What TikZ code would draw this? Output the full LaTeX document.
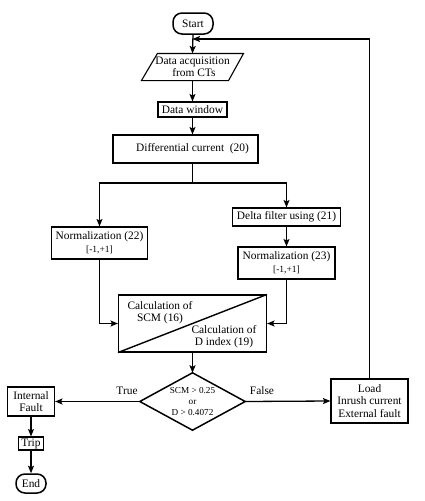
\documentclass[tikz,border=0pt]{standalone}
\usepackage{fontspec}
\setmainfont{Liberation Serif}
\usetikzlibrary{arrows.meta,calc}
\begin{document}
\begin{tikzpicture}[x=1pt,y=-1pt,
  box/.style={draw,line width=1.1pt,inner sep=0pt,align=center,font=\fontsize{11.4}{12.2}\selectfont},
  term/.style={box,rounded corners=9pt,line width=1.5pt},
  conn/.style={line width=1.3pt,-{Stealth[length=7.5pt,width=6pt,inset=1.5pt]}},
  plain/.style={line width=1.3pt},
  lbl/.style={font=\fontsize{11.4}{12.2}\selectfont,inner sep=0pt,align=center},
  small/.style={font=\fontsize{9.2}{10.5}\selectfont}]
\useasboundingbox (0,0) rectangle (425,501);
% nodes
\node[term,minimum width=40pt,minimum height=21pt] (start) at (193,23.5) {Start};
\node[box,draw=none,minimum width=101pt,minimum height=26pt] (acq) at (192.5,67) {Data acquisition\\\hspace*{3pt}from CTs};
\draw[line width=1.1pt] ($(acq.north west)+(16,0)$) -- (acq.north east) -- ($(acq.south east)-(15,0)$) -- (acq.south west) -- cycle;
\node[box,minimum width=69pt,minimum height=15pt] (win) at (192.5,109.5) {Data window};
\node[box,minimum width=145pt,minimum height=28pt] (diff) at (185.5,149) {\hspace*{14pt}Differential current\ \ (20)};
\coordinate (split) at (192.5,183);
\node[box,minimum width=96pt,minimum height=32pt] (n22) at (99.5,243) {Normalization (22)\\[1pt]{\fontsize{9.5}{10}\selectfont[-1,+1]}};
\node[box,minimum width=108pt,minimum height=18pt] (delta) at (286.5,217) {Delta filter using (21)};
\node[box,minimum width=97pt,minimum height=32pt] (n23) at (286.5,263) {Normalization (23)\\[1pt]{\fontsize{9.5}{10}\selectfont[-1,+1]}};
\node[box,minimum width=148pt,minimum height=57pt] (calc) at (192.5,323.5) {};
\draw[line width=1.4pt] (calc.south west) -- (calc.north east);
\node[lbl] (calcA) at (160,312.5) {Calculation of\\SCM (16)};
\node[lbl] (calcB) at (224,337) {Calculation of\\D index (19)};
\node[inner sep=0pt,minimum width=105pt,minimum height=57pt,align=center,small] (dia) at (192.5,401.5) {SCM > 0.25\\or\\D > 0.4072};
\draw[line width=1.5pt] (dia.north) -- (dia.east) -- (dia.south) -- (dia.west) -- cycle;
\node[box,minimum width=47pt,minimum height=29pt] (intf) at (31,401.5) {Internal\\Fault};
\node[box,minimum width=25pt,minimum height=13pt] (trip) at (31,443.5) {Trip};
\node[term,minimum width=30pt,minimum height=19pt] (endn) at (31,483.5) {End};
\node[box,minimum width=77pt,minimum height=44pt] (load) at (369.5,401) {Load\\Inrush current\\External fault};
\node[lbl] (ltrue) at (127,391) {True};
\node[lbl] (lfalse) at (262,391) {False};
\coordinate (fb) at (192.5,39);
% connectors
\draw[conn] (start.south) -- (acq.north);
\draw[conn] (acq.south) -- (win.north);
\draw[conn] (win.south) -- (win.south |- diff.north);
\draw[plain] (diff.south -| split) -- (split);
\draw[conn] (split) -| (n22.north);
\draw[conn] (split) -| (delta.north);
\draw[conn] (delta.south) -- (n23.north);
\draw[conn] (n22.south) |- (calc.west);
\draw[conn] (n23.south) |- (calc.east);
\draw[conn] (calc.south) -- (dia.north);
\draw[conn] (dia.west) -- (intf.east);
\draw[conn] (dia.east) -- (load.west);
\draw[conn] (intf.south) -- (trip.north);
\draw[conn] (trip.south) -- (endn.north);
\draw[conn] (load.north) |- (fb);
\end{tikzpicture}
\end{document}
